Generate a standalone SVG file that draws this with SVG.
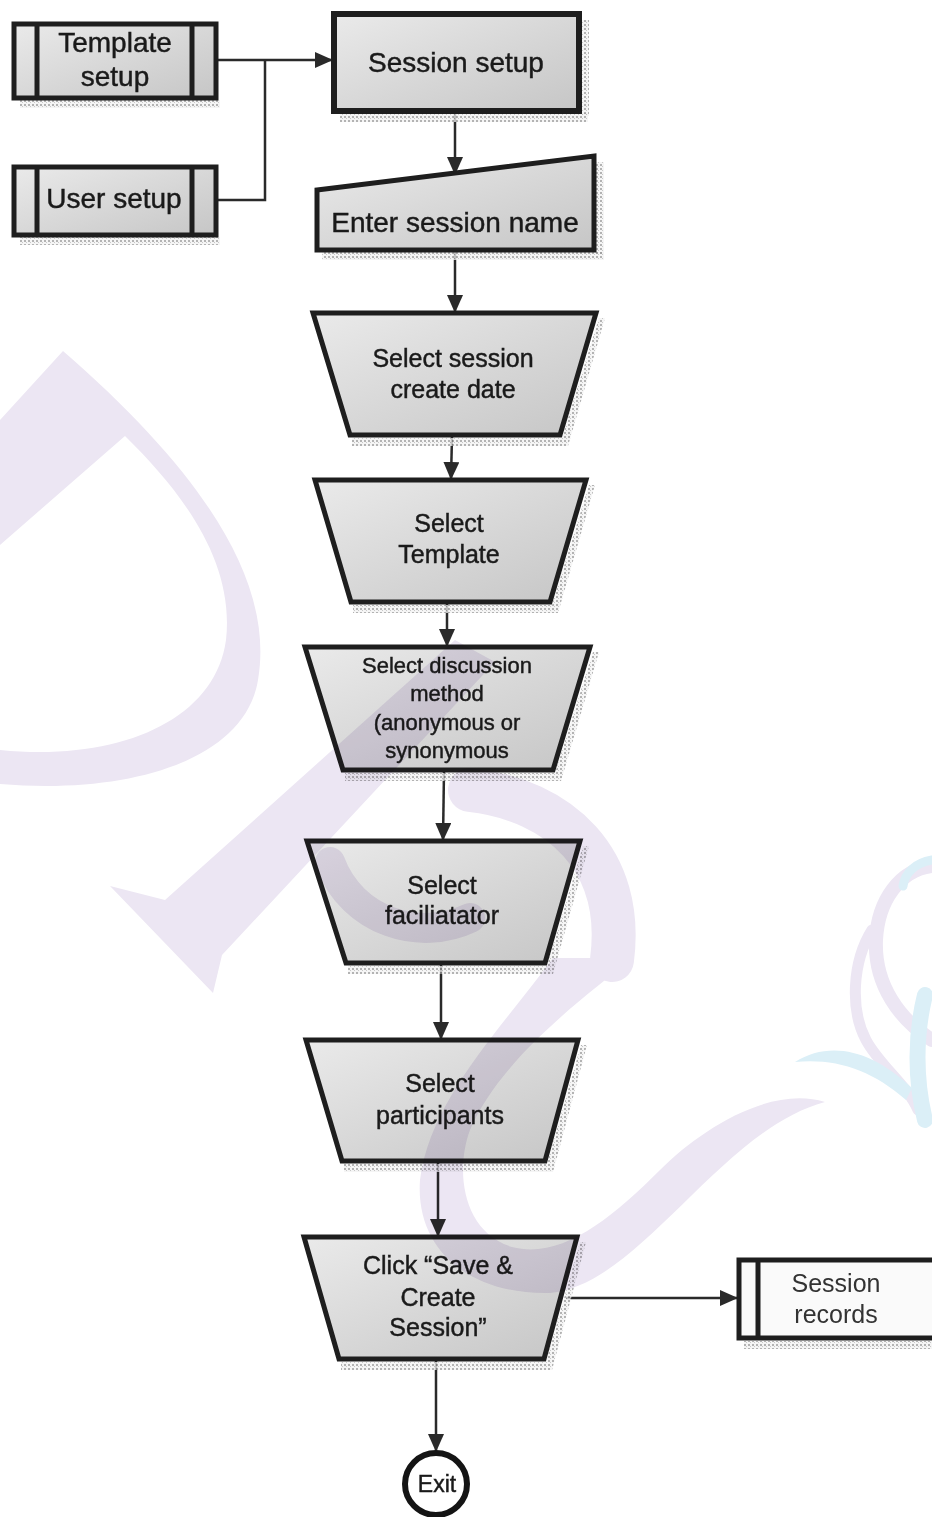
<svg xmlns="http://www.w3.org/2000/svg" width="932" height="1517" viewBox="0 0 932 1517">
  <defs>
    <linearGradient id="boxFill" x1="0" y1="0" x2="1" y2="1">
      <stop offset="0" stop-color="#eaeaea"/>
      <stop offset="0.55" stop-color="#d6d6d6"/>
      <stop offset="1" stop-color="#c6c6c6"/>
    </linearGradient>
    <pattern id="dots" width="4" height="4" patternUnits="userSpaceOnUse">
      <rect width="4" height="4" fill="#f2f2f2"/>
      <rect x="0" y="0" width="2" height="2" fill="#9a9a9a"/>
      <rect x="2" y="2" width="1" height="1" fill="#b5b5b5"/>
    </pattern>
    <marker id="arrow" viewBox="0 0 18 16" refX="17" refY="8" markerWidth="18" markerHeight="16" markerUnits="userSpaceOnUse" orient="auto">
      <path d="M0,0 L18,8 L0,16 Z" fill="#2a2a2a"/>
    </marker>
  </defs>
  <style>
    .shape { fill: url(#boxFill); stroke: #1e1e1e; stroke-width: 5; stroke-linejoin: miter; }
    .bar { stroke: #1e1e1e; stroke-width: 5; }
    .shadow { fill: url(#dots); opacity: 0.75; }
    .lbl { font-family: "Liberation Sans", Arial, sans-serif; fill: #1a1a1a; stroke: #1a1a1a; stroke-width: 0.45; text-anchor: middle; font-size: 25px; }
    .big { font-size: 28px; }
    .small { font-size: 22px; }
    .edge { fill: none; stroke: #2a2a2a; stroke-width: 2.5; }
    .mark { mix-blend-mode: multiply; }
    .lav { fill: #ece6f3; }
    .lavs { fill: none; stroke: #ece6f3; stroke-linecap: round; }
    .blu { fill: #dbeff7; }
    .blus { fill: none; stroke: #dbeff7; stroke-linecap: round; }
  </style>

  <rect width="932" height="1517" fill="#ffffff"/>

  <!-- connectors -->
  <g id="connectors">
    <path class="edge" d="M218,60 L332,60" marker-end="url(#arrow)"/>
    <path class="edge" d="M218,200 L265,200 L265,60"/>
    <path class="edge" d="M455,112 L455,174" marker-end="url(#arrow)"/>
    <path class="edge" d="M455,250 L455,312" marker-end="url(#arrow)"/>
    <path class="edge" d="M452,436 L451,479" marker-end="url(#arrow)"/>
    <path class="edge" d="M447,603 L447,646" marker-end="url(#arrow)"/>
    <path class="edge" d="M444,771 L443,840" marker-end="url(#arrow)"/>
    <path class="edge" d="M441,964 L441,1039" marker-end="url(#arrow)"/>
    <path class="edge" d="M438,1162 L438,1236" marker-end="url(#arrow)"/>
    <path class="edge" d="M566,1298 L737,1298" marker-end="url(#arrow)"/>
    <path class="edge" d="M436,1360 L436,1451" marker-end="url(#arrow)"/>
  </g>

  <!-- data stores -->
  <g id="template-setup">
    <rect class="shadow" x="20" y="100" width="200" height="8"/>
    <rect class="shape" x="14" y="24" width="202" height="74"/>
    <line class="bar" x1="37" y1="24" x2="37" y2="98"/>
    <line class="bar" x1="192" y1="24" x2="192" y2="98"/>
    <text class="lbl big" x="115" y="52">Template</text>
    <text class="lbl big" x="115" y="86">setup</text>
  </g>

  <g id="user-setup">
    <rect class="shadow" x="20" y="237" width="200" height="8"/>
    <rect class="shape" x="14" y="167" width="202" height="68"/>
    <line class="bar" x1="37" y1="167" x2="37" y2="235"/>
    <line class="bar" x1="192" y1="167" x2="192" y2="235"/>
    <text class="lbl big" x="114" y="208">User setup</text>
  </g>

  <g id="session-setup">
    <rect class="shadow" x="340" y="113" width="248" height="9"/>
    <rect class="shadow" x="580" y="20" width="9" height="96"/>
    <rect class="shape" x="334" y="14" width="245" height="97" style="stroke-width:6"/>
    <text class="lbl big" x="456" y="72">Session setup</text>
  </g>

  <g id="enter-session-name">
    <rect class="shadow" x="322" y="252" width="282" height="8"/>
    <rect class="shadow" x="595" y="162" width="9" height="92"/>
    <path class="shape" d="M317,190 L594,156 L594,250 L317,250 Z"/>
    <text class="lbl big" x="455" y="232">Enter session name</text>
  </g>

  <!-- manual operations -->
  <g id="select-create-date">
    <path class="shadow" d="M599,318 L605,318 L568,446 L352,446 L352,438 L562,438 Z"/>
    <path class="shape" d="M313,313 L596,313 L560,435 L350,435 Z"/>
    <text class="lbl" x="453" y="367">Select session</text>
    <text class="lbl" x="453" y="398">create date</text>
  </g>

  <g id="select-template">
    <path class="shadow" d="M589,485 L595,485 L558,613 L353,613 L353,605 L552,605 Z"/>
    <path class="shape" d="M315,480 L586,480 L550,602 L351,602 Z"/>
    <text class="lbl" x="449" y="532">Select</text>
    <text class="lbl" x="449" y="563">Template</text>
  </g>

  <g id="select-discussion-method">
    <path class="shadow" d="M593,652 L599,652 L561,781 L345,781 L345,773 L555,773 Z"/>
    <path class="shape" d="M305,647 L590,647 L553,770 L343,770 Z"/>
    <text class="lbl small" x="447" y="673">Select discussion</text>
    <text class="lbl small" x="447" y="701">method</text>
    <text class="lbl small" x="447" y="730">(anonymous or</text>
    <text class="lbl small" x="447" y="758">synonymous</text>
  </g>

  <g id="select-facilitator">
    <path class="shadow" d="M583,846 L589,846 L553,974 L348,974 L348,966 L547,966 Z"/>
    <path class="shape" d="M307,841 L580,841 L545,963 L346,963 Z"/>
    <text class="lbl" x="442" y="894">Select</text>
    <text class="lbl" x="442" y="924">faciliatator</text>
  </g>

  <g id="select-participants">
    <path class="shadow" d="M581,1045 L587,1045 L553,1172 L344,1172 L344,1164 L547,1164 Z"/>
    <path class="shape" d="M306,1040 L578,1040 L545,1161 L342,1161 Z"/>
    <text class="lbl" x="440" y="1092">Select</text>
    <text class="lbl" x="440" y="1124">participants</text>
  </g>

  <g id="save-create-session">
    <path class="shadow" d="M580,1242 L586,1242 L552,1370 L341,1370 L341,1362 L546,1362 Z"/>
    <path class="shape" d="M304,1237 L577,1237 L544,1359 L339,1359 Z"/>
    <text class="lbl" x="438" y="1274">Click “Save &amp;</text>
    <text class="lbl" x="438" y="1306">Create</text>
    <text class="lbl" x="438" y="1336">Session”</text>
  </g>

  <g id="session-records">
    <rect class="shadow" x="744" y="1341" width="188" height="8"/>
    <rect x="739" y="1260" width="200" height="78" fill="#fafafa" stroke="#1e1e1e" stroke-width="5"/>
    <line class="bar" x1="758" y1="1260" x2="758" y2="1338"/>
    <text class="lbl" x="836" y="1292" style="fill:#333;stroke:none">Session</text>
    <text class="lbl" x="836" y="1323" style="fill:#333;stroke:none">records</text>
  </g>

  <g id="exit">
    <circle cx="436" cy="1484" r="31" fill="#ffffff" stroke="#141414" stroke-width="6"/>
    <text class="lbl" x="437" y="1492" style="font-size:23px">Exit</text>
  </g>

  <!-- background logo, tinted over everything -->
  <g id="logo" class="mark">
    <path class="lav" d="M0,420 L63,351 C200,470 275,580 258,680 C245,760 130,795 0,784 L0,750 C120,762 215,720 226,640 C235,560 180,490 125,436 L0,545 Z"/>
    <path class="lav" d="M110,886 L165,900 L455,640 L495,662 L222,955 L213,993 Z"/>
    <path class="lavs" d="M470,790 C560,800 625,860 612,960" stroke-width="44"/>
    <path class="lavs" d="M330,862 C352,922 420,942 470,918" stroke-width="30"/>
    <path class="lav" d="M553,958 C500,1030 430,1100 420,1180 C415,1250 470,1295 550,1293 C640,1285 720,1130 825,1102 C770,1085 700,1130 660,1170 C610,1220 560,1260 512,1247 C462,1232 455,1170 470,1130 C500,1060 580,1000 633,958 Z"/>
    <path class="lavs" d="M932,866 C900,870 878,900 876,940 C874,985 900,1020 932,1040" stroke-width="14"/>
    <path class="lavs" d="M872,930 C852,962 850,1010 866,1040 C880,1066 908,1086 918,1110" stroke-width="11"/>
    <path class="blus" d="M932,860 C915,863 905,873 903,886" stroke-width="9"/>
    <path class="blus" d="M925,995 C915,1035 915,1080 925,1120" stroke-width="16"/>
    <path class="blu" d="M795,1062 C830,1040 872,1050 912,1088 L906,1100 C872,1070 836,1058 795,1062 Z"/>
  </g>
</svg>
